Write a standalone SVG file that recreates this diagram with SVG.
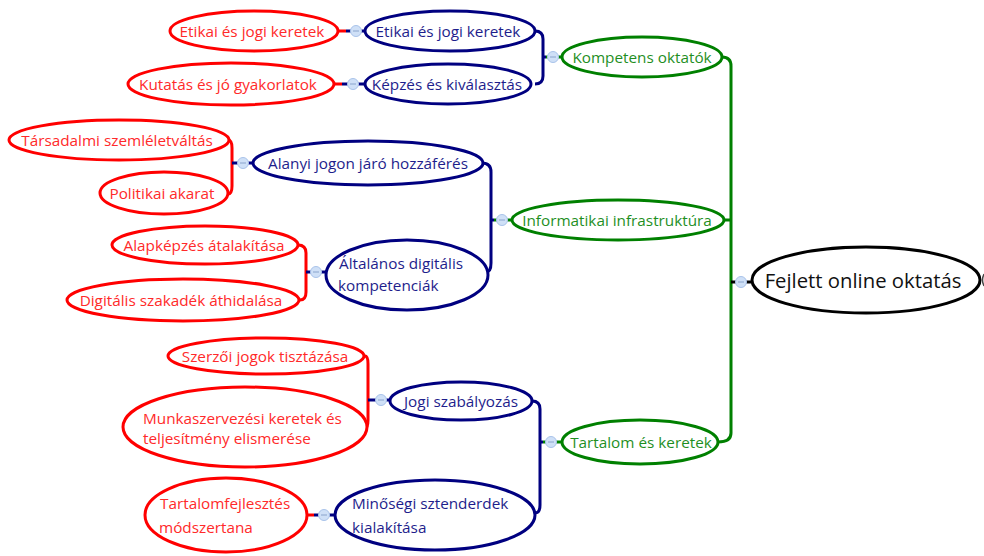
<svg xmlns="http://www.w3.org/2000/svg" width="984" height="556" viewBox="0 0 984 556">
<style>
text{font-family:"Open Sans","Noto Sans",sans-serif;font-size:15.3px;text-anchor:middle;dominant-baseline:central}
.l{text-anchor:start}
.r ellipse{fill:#fff;stroke:#ff0000;stroke-width:3}
.r text{fill:#ff2a2a}
.n ellipse{fill:#fff;stroke:#000080;stroke-width:3}
.n text{fill:#1e1e8c}
.g ellipse{fill:#fff;stroke:#008000;stroke-width:3}
.g text{fill:#1f8f1f}
.k ellipse{fill:#fff;stroke:#000;stroke-width:3}
.k text{fill:#111;font-size:20.3px}
.cr{fill:none;stroke:#ff0000;stroke-width:3}
.cn{fill:none;stroke:#000080;stroke-width:3}
.cg{fill:none;stroke:#008000;stroke-width:3}
.ck{fill:none;stroke:#000;stroke-width:3}
.btn circle{fill:#cfe0f7;stroke:#a9c3ea;stroke-width:1}
.btn path{stroke:#8aa4cc;stroke-width:1}
</style>
<defs>
<g id="b" class="btn"><circle r="5.5"/><path d="M-3,0H3"/></g>
</defs>
<g id="connectors">
<path class="cg" d="M722,57Q731,57 731,66V433Q731,442 718,442"/>
<path class="cg" d="M724,220H731"/>
<path class="ck" d="M731,282H752"/>
<path class="cn" d="M535,31Q543,31 543,39V76Q543,84 535,84"/>
<path class="cn" d="M543,57H546"/><path class="cg" d="M546,57H562"/>
<path class="cr" d="M338,31H346"/><path class="cn" d="M346,31H365"/>
<path class="cr" d="M334,84H342"/><path class="cn" d="M342,84H365"/>
<path class="cn" d="M482,163Q491,163 491,172V263Q491,272 486,272"/>
<path class="cn" d="M491,220H494"/><path class="cg" d="M494,220H512"/>
<path class="cr" d="M228,140Q232,140 232,148V186Q232,194 228,194"/>
<path class="cn" d="M232,163H253"/>
<path class="cr" d="M298,245Q306,245 306,253V292Q306,300 300,300"/>
<path class="cn" d="M306,272H326"/>
<path class="cn" d="M532,401Q540,401 540,409V505Q540,513 535,513"/>
<path class="cn" d="M540,442H543"/><path class="cg" d="M543,442H562"/>
<path class="cr" d="M365,356Q368,356 368,364V420Q368,428 365,428"/>
<path class="cn" d="M368,400H390"/>
<path class="cr" d="M307,515H314"/><path class="cn" d="M314,515H335"/>
<use href="#b" x="741" y="282"/>
<use href="#b" x="553" y="57"/>
<use href="#b" x="502" y="220"/>
<use href="#b" x="551" y="442"/>
<use href="#b" x="356" y="31"/>
<use href="#b" x="353" y="84"/>
<use href="#b" x="243" y="163"/>
<use href="#b" x="316" y="272"/>
<use href="#b" x="381" y="400"/>
<use href="#b" x="324" y="515"/>
</g>
<g id="root" class="k"><ellipse cx="866" cy="280" rx="114" ry="33"/><text x="863" y="280">Fejlett online oktatás</text></g>
<path d="M984,274Q981,280 984,286" fill="none" stroke="#444" stroke-width="1.5"/>
<g id="kompetens" class="g"><ellipse cx="642" cy="57" rx="80" ry="20"/><text x="642" y="57">Kompetens oktatók</text></g>
<g id="informatikai" class="g"><ellipse cx="618" cy="220" rx="106" ry="20"/><text x="617" y="220">Informatikai infrastruktúra</text></g>
<g id="tartalom" class="g"><ellipse cx="640" cy="442" rx="78" ry="22"/><text x="641" y="442">Tartalom és keretek</text></g>
<g id="etikai-n" class="n"><ellipse cx="450" cy="31" rx="85" ry="20"/><text x="448" y="31">Etikai és jogi keretek</text></g>
<g id="kepzes" class="n"><ellipse cx="448" cy="84" rx="83" ry="20"/><text x="447" y="84">Képzés és kiválasztás</text></g>
<g id="alanyi" class="n"><ellipse cx="368" cy="163" rx="115" ry="22"/><text x="368" y="163">Alanyi jogon járó hozzáférés</text></g>
<g id="altalanos" class="n"><ellipse cx="407" cy="275" rx="81" ry="35"/><text class="l" x="339" y="263">Általános digitális</text><text class="l" x="338" y="285">kompetenciák</text></g>
<g id="jogi" class="n"><ellipse cx="461" cy="401" rx="71" ry="19"/><text x="461" y="401">Jogi szabályozás</text></g>
<g id="minosegi" class="n"><ellipse cx="435" cy="515" rx="100" ry="35"/><text class="l" x="352" y="503">Minőségi sztenderdek</text><text class="l" x="352" y="527">kialakítása</text></g>
<g id="etikai-r" class="r"><ellipse cx="254" cy="31" rx="84" ry="20"/><text x="252" y="31">Etikai és jogi keretek</text></g>
<g id="kutatas" class="r"><ellipse cx="231" cy="84" rx="103" ry="21"/><text x="228" y="84">Kutatás és jó gyakorlatok</text></g>
<g id="tarsadalmi" class="r"><ellipse cx="119" cy="140" rx="110" ry="20"/><text x="117" y="140">Társadalmi szemléletváltás</text></g>
<g id="politikai" class="r"><ellipse cx="164" cy="193" rx="64" ry="21"/><text x="162" y="193">Politikai akarat</text></g>
<g id="alapkepzes" class="r"><ellipse cx="205" cy="245" rx="93" ry="19"/><text x="204" y="245">Alapképzés átalakítása</text></g>
<g id="digitalis" class="r"><ellipse cx="183" cy="300" rx="116" ry="21"/><text x="181" y="300">Digitális szakadék áthidalása</text></g>
<g id="szerzoi" class="r"><ellipse cx="266" cy="356" rx="98" ry="18"/><text x="265" y="356">Szerzői jogok tisztázása</text></g>
<g id="munkaszervezesi" class="r"><ellipse cx="245" cy="427" rx="122" ry="40"/><text class="l" x="143" y="418">Munkaszervezési keretek és</text><text class="l" x="143" y="438">teljesítmény elismerése</text></g>
<g id="tartalomfejlesztes" class="r"><ellipse cx="226" cy="515" rx="81" ry="37"/><text class="l" x="160" y="503">Tartalomfejlesztés</text><text class="l" x="159" y="527">módszertana</text></g>
</svg>
